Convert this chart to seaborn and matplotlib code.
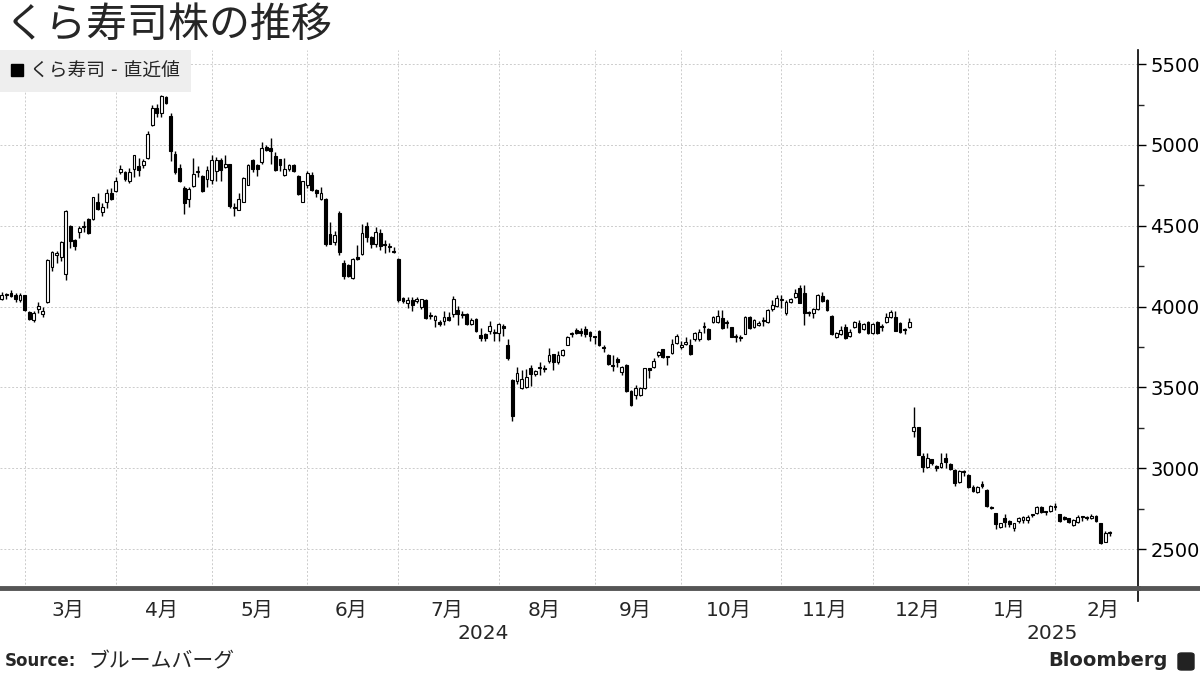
import numpy as np
import pandas as pd
import matplotlib
matplotlib.use('Agg')
import matplotlib.pyplot as plt
from matplotlib.lines import Line2D
from matplotlib.patches import FancyBboxPatch
from matplotlib.ticker import MultipleLocator
import seaborn as sns

# daily candles (trading days, late Feb 2024 - Feb 2025)
open_ = [4050, 4075, 4085, 4075, 4040, 4070, 3965, 3920, 3985, 3955,
         4030, 4245, 4320, 4310, 4200, 4500, 4410, 4460, 4490, 4540,
         4540, 4645, 4585, 4645, 4705, 4715, 4835, 4835, 4775, 4850,
         4870, 4875, 4920, 5125, 5230, 5195, 5295, 5180, 4945, 4860,
         4735, 4667, 4745, 4835, 4807, 4790, 4785, 4840, 4905, 4865,
         4880, 4612, 4600, 4650, 4755, 4905, 4875, 4897, 4990, 4980,
         4930, 4910, 4815, 4852, 4875, 4807, 4647, 4750, 4815, 4720,
         4665, 4668, 4450, 4400, 4580, 4270, 4260, 4175, 4310, 4325,
         4500, 4432, 4387, 4455, 4385, 4375, 4345, 4295, 4055, 4025,
         4040, 4035, 4000, 4040, 3945, 3920, 3905, 3910, 3937, 3955,
         3980, 3955, 3955, 3890, 3925, 3825, 3828, 3850, 3840, 3835,
         3883, 3765, 3545, 3540, 3495, 3500, 3618, 3583, 3620, 3622,
         3663, 3705, 3655, 3700, 3762, 3830, 3855, 3850, 3860, 3845,
         3812, 3850, 3748, 3700, 3636, 3675, 3597, 3640, 3480, 3452,
         3455, 3495, 3618, 3627, 3700, 3737, 3688, 3711, 3773, 3748,
         3767, 3762, 3800, 3798, 3878, 3860, 3903, 3907, 3928, 3899,
         3872, 3815, 3810, 3831, 3938, 3876, 3887, 3913, 3907, 3983,
         4004, 4040, 3959, 4027, 4062, 4118, 4087, 3963, 3959, 3986,
         4066, 4041, 3944, 3814, 3831, 3872, 3818, 3872, 3901, 3860,
         3907, 3835, 3907, 3877, 3907, 3938, 3938, 3901, 3857, 3872,
         3233, 3253, 3076, 3010, 3055, 3014, 3006, 3062, 3027, 2990,
         2914, 2980, 2959, 2887, 2856, 2901, 2866, 2755, 2722, 2640,
         2691, 2675, 2630, 2675, 2680, 2681, 2712, 2722, 2763, 2730,
         2735, 2763, 2718, 2701, 2691, 2650, 2671, 2702, 2696, 2691,
         2706, 2660, 2547, 2600]
high = [4090, 4085, 4100, 4085, 4085, 4075, 3970, 3970, 4030, 3995,
        4295, 4345, 4345, 4405, 4600, 4505, 4420, 4500, 4530, 4550,
        4680, 4700, 4640, 4730, 4735, 4800, 4875, 4840, 4860, 4940,
        4920, 4915, 5085, 5245, 5255, 5310, 5300, 5195, 4960, 4880,
        4745, 4740, 4920, 4867, 4815, 4870, 4940, 4925, 4920, 4935,
        4885, 4640, 4700, 4800, 4880, 4910, 4880, 5020, 5000, 5040,
        4955, 4915, 4920, 4880, 4880, 4815, 4780, 4840, 4830, 4730,
        4740, 4670, 4525, 4470, 4590, 4290, 4265, 4300, 4380, 4510,
        4525, 4435, 4490, 4480, 4410, 4395, 4370, 4300, 4060, 4060,
        4060, 4060, 4050, 4045, 3965, 3950, 3915, 3970, 3965, 4065,
        4005, 3970, 3960, 3930, 3930, 3870, 3840, 3910, 3860, 3900,
        3890, 3800, 3550, 3625, 3610, 3615, 3640, 3610, 3660, 3640,
        3745, 3710, 3725, 3740, 3820, 3845, 3870, 3865, 3880, 3850,
        3820, 3855, 3760, 3705, 3700, 3690, 3635, 3645, 3485, 3515,
        3500, 3622, 3622, 3680, 3725, 3740, 3690, 3800, 3830, 3790,
        3815, 3800, 3845, 3860, 3907, 3865, 3945, 3979, 3979, 3915,
        3876, 3830, 3825, 3942, 3942, 3925, 3910, 3935, 3985, 4040,
        4075, 4072, 4040, 4055, 4110, 4134, 4134, 3970, 3990, 4080,
        4090, 4045, 3950, 3842, 3880, 3890, 3860, 3910, 3915, 3900,
        3912, 3900, 3912, 3890, 3962, 3980, 3970, 3905, 3865, 3930,
        3377, 3255, 3095, 3095, 3060, 3020, 3095, 3095, 3030, 2995,
        2990, 2990, 2965, 2895, 2890, 2920, 2870, 2770, 2725, 2665,
        2715, 2680, 2665, 2700, 2705, 2710, 2720, 2765, 2765, 2735,
        2775, 2785, 2720, 2705, 2695, 2685, 2712, 2705, 2705, 2715,
        2712, 2665, 2610, 2615]
low = [4040, 4045, 4060, 4030, 4030, 3975, 3920, 3905, 3960, 3935,
       4025, 4220, 4270, 4280, 4165, 4365, 4350, 4425, 4460, 4450,
       4535, 4600, 4560, 4610, 4660, 4710, 4820, 4780, 4765, 4800,
       4810, 4860, 4915, 5120, 5175, 5170, 5255, 4900, 4820, 4770,
       4570, 4616, 4740, 4800, 4710, 4740, 4760, 4780, 4780, 4860,
       4610, 4560, 4595, 4645, 4750, 4830, 4810, 4880, 4965, 4880,
       4840, 4840, 4810, 4840, 4835, 4690, 4645, 4735, 4715, 4680,
       4660, 4375, 4385, 4380, 4320, 4170, 4185, 4170, 4290, 4320,
       4400, 4360, 4370, 4350, 4330, 4340, 4330, 4030, 4020, 3990,
       3975, 4020, 3985, 3925, 3925, 3875, 3880, 3885, 3910, 3935,
       3885, 3930, 3885, 3885, 3845, 3790, 3785, 3830, 3785, 3790,
       3820, 3670, 3295, 3520, 3490, 3495, 3510, 3570, 3580, 3595,
       3650, 3610, 3645, 3695, 3760, 3815, 3830, 3820, 3815, 3790,
       3770, 3755, 3720, 3640, 3605, 3625, 3575, 3475, 3385, 3430,
       3450, 3490, 3560, 3620, 3690, 3680, 3640, 3705, 3770, 3740,
       3760, 3700, 3790, 3790, 3835, 3795, 3898, 3900, 3860, 3870,
       3810, 3780, 3785, 3828, 3860, 3870, 3880, 3880, 3900, 3975,
       4000, 3990, 3950, 4020, 4055, 4020, 3885, 3945, 3930, 3980,
       4030, 3975, 3825, 3808, 3825, 3800, 3810, 3865, 3835, 3855,
       3830, 3830, 3830, 3850, 3900, 3932, 3848, 3835, 3830, 3865,
       3196, 3080, 2975, 3000, 3020, 2985, 3000, 3005, 2990, 2890,
       2910, 2950, 2880, 2855, 2850, 2880, 2760, 2750, 2625, 2630,
       2640, 2640, 2610, 2665, 2665, 2660, 2700, 2715, 2725, 2710,
       2730, 2740, 2670, 2680, 2665, 2645, 2660, 2675, 2680, 2685,
       2670, 2535, 2545, 2580]
close = [4075, 4080, 4065, 4050, 4070, 3980, 3922, 3960, 4005, 3975,
         4290, 4335, 4330, 4400, 4590, 4405, 4375, 4485, 4500, 4455,
         4675, 4605, 4615, 4700, 4665, 4780, 4850, 4790, 4830, 4940,
         4845, 4900, 5070, 5230, 5195, 5305, 5260, 4965, 4830, 4780,
         4640, 4725, 4820, 4840, 4715, 4845, 4905, 4905, 4845, 4880,
         4620, 4615, 4665, 4797, 4877, 4852, 4852, 4980, 4970, 4960,
         4845, 4875, 4850, 4875, 4838, 4698, 4775, 4827, 4720, 4700,
         4700, 4385, 4390, 4440, 4340, 4190, 4190, 4295, 4295, 4455,
         4432, 4387, 4460, 4377, 4380, 4370, 4335, 4040, 4035, 4040,
         4012, 4050, 4045, 3930, 3940, 3945, 3895, 3935, 3915, 4050,
         3955, 3950, 3890, 3915, 3850, 3808, 3803, 3880, 3840, 3895,
         3865, 3685, 3325, 3590, 3555, 3565, 3583, 3600, 3618, 3612,
         3700, 3655, 3700, 3730, 3814, 3832, 3835, 3840, 3830, 3820,
         3810, 3762, 3745, 3645, 3634, 3655, 3628, 3480, 3390, 3494,
         3494, 3618, 3608, 3663, 3720, 3686, 3686, 3770, 3820, 3762,
         3783, 3706, 3840, 3845, 3875, 3800, 3938, 3944, 3866, 3897,
         3814, 3812, 3808, 3938, 3866, 3917, 3901, 3915, 3979, 4010,
         4052, 4042, 4031, 4047, 4087, 4025, 3959, 3960, 3983, 4072,
         4037, 3979, 3831, 3835, 3856, 3804, 3845, 3903, 3845, 3891,
         3835, 3891, 3835, 3876, 3938, 3965, 3851, 3845, 3855, 3903,
         3253, 3082, 3006, 3062, 3035, 3000, 3031, 3037, 2996, 2907,
         2984, 2975, 2883, 2862, 2887, 2891, 2767, 2753, 2656, 2660,
         2667, 2656, 2660, 2691, 2701, 2702, 2713, 2759, 2732, 2728,
         2767, 2765, 2675, 2685, 2671, 2681, 2697, 2700, 2695, 2706,
         2675, 2537, 2603, 2598]

month_labels = ['3月', '4月', '5月', '6月', '7月', '8月', '9月', '10月', '11月', '12月', '1月', '2月']
month_starts = [5, 25, 46, 67, 87, 109, 130, 149, 171, 191, 212, 231]
month_ends = month_starts[1:] + [253]
year_labels = ['2024', '2025']
year_bounds = [-0.4, 211.5, 249.2]

df = pd.DataFrame({'open': open_, 'high': high, 'low': low, 'close': close})
df['i'] = np.arange(len(df))
df['up'] = df['close'] >= df['open']
df['body_lo'] = df[['open', 'close']].min(axis=1)
df['body_h'] = (df['close'] - df['open']).abs().clip(lower=6)

sns.set_style('white')
plt.rcParams['font.family'] = ['DejaVu Sans', 'Noto Sans CJK JP']

fig = plt.figure(figsize=(12, 6.75), dpi=100)
ax = fig.add_axes([0, 0.1289, 0.9483, 0.797])

# wicks then bodies
ax.vlines(df['i'], df['low'], df['high'], color='black', linewidth=1, zorder=2)
ax.bar(df['i'], df['body_h'], bottom=df['body_lo'], width=0.62,
       color=np.where(df['up'], 'white', 'black'), edgecolor='black',
       linewidth=0.8, zorder=3)

ax.set_xlim(year_bounds[0], year_bounds[-1])
ax.set_ylim(2260, 5587)

# y axis on the right
ax.yaxis.tick_right()
ax.set_yticks(range(2500, 5501, 500))
ax.yaxis.set_minor_locator(MultipleLocator(250))
ax.tick_params(axis='y', which='major', direction='out', length=6, width=1,
               labelsize=14, pad=3, colors='black')
ax.tick_params(axis='y', which='minor', direction='out', length=4, width=1)

# x axis: labels mid month, grid at month start
centers = [(s + e) / 2 - 0.5 for s, e in zip(month_starts, month_ends)]
ax.set_xticks(centers)
ax.set_xticklabels(month_labels)
ax.set_xticks(month_starts, minor=True)
ax.tick_params(axis='x', which='both', length=0, labelsize=14.5, pad=9)

ax.grid(False)
ax.grid(which='minor', axis='x', color='#cccccc', linestyle=(0, (2, 2)), linewidth=0.7)
ax.grid(which='major', axis='y', color='#cccccc', linestyle=(0, (2, 2)), linewidth=0.7)

for sp in ['left', 'top']:
    ax.spines[sp].set_visible(False)
ax.spines['right'].set_color('black')
ax.spines['right'].set_linewidth(1.2)
ax.spines['right'].set_bounds(2180, 5587)
ax.spines['bottom'].set_color('#555555')
ax.spines['bottom'].set_linewidth(3.5)
# band continues to the right edge
fig.add_artist(Line2D([1138 / 1200, 1], [0.1289, 0.1289], transform=fig.transFigure,
                      color='#555555', linewidth=3.5))

for k, lab in enumerate(year_labels):
    mid = (year_bounds[k] + year_bounds[k + 1]) / 2
    ax.text(mid, -0.0855, lab, transform=ax.get_xaxis_transform(),
            ha='center', va='center', fontsize=14.5)

leg = ax.legend(handles=[Line2D([], [], marker='s', color='black', linestyle='None', markersize=8)],
                labels=['くら寿司 - 直近値'], loc='upper left', bbox_to_anchor=(0, 1),
                borderaxespad=0, frameon=True, facecolor='#eeeeee', edgecolor='none',
                fancybox=False, framealpha=1, fontsize=13.5, handlelength=0.6,
                handletextpad=0.4, borderpad=0.6)

fig.text(5 / 1200, 1 - 25 / 675, 'くら寿司株の推移', fontsize=29.5, va='center',
         family=['Noto Sans CJK JP'])
fig.text(5 / 1200, 1 - 661 / 675, 'Source:', fontsize=12, fontweight='bold', va='center')
fig.text(88 / 1200, 1 - 661 / 675, 'ブルームバーグ', fontsize=15, va='center',
         family=['Noto Sans CJK JP'])
fig.text(1168 / 1200, 1 - 661 / 675, 'Bloomberg', fontsize=14, fontweight='bold',
         ha='right', va='center')
fig.add_artist(FancyBboxPatch((1178 / 1200, 1 - 670 / 675), 16 / 1200, 17 / 675,
                              boxstyle='round,pad=0,rounding_size=0.003',
                              transform=fig.transFigure, color='#222222'))

fig.savefig('out.png', dpi=100)
